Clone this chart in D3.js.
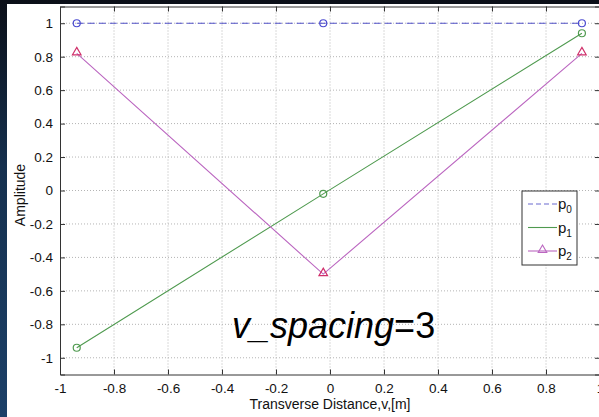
<!DOCTYPE html>
<html>
<head>
<meta charset="utf-8">
<script src="https://cdn.jsdelivr.net/npm/d3@7"></script>
<style>
  body { margin: 0; padding: 0; overflow: hidden; }
  text { font-family: "Liberation Sans", Arial, Helvetica, sans-serif; }
</style>
</head>
<body>
<div id="chart"></div>
<script>
// data
var xVals = [-0.938, -0.025, 0.933];
var p0 = [1, 1, 1];
var p1 = [-0.94, -0.02, 0.94];
var p2 = [0.82, -0.5, 0.82];
var xTicks = [-1, -0.8, -0.6, -0.4, -0.2, 0, 0.2, 0.4, 0.6, 0.8, 1];
var yTicks = [-1, -0.8, -0.6, -0.4, -0.2, 0, 0.2, 0.4, 0.6, 0.8, 1];
var seriesNames = ["p0", "p1", "p2"];

var svgWidth = 599;
var svgHeight = 417;

var svg = d3.select("#chart")
    .append("svg")
    .attr("width", svgWidth)
    .attr("height", svgHeight);

// dark backdrop behind the figure
var defs = svg.append("defs");
var grad = defs.append("linearGradient")
    .attr("id", "bg")
    .attr("x1", "0").attr("y1", "0").attr("x2", "0").attr("y2", "1");
grad.append("stop").attr("offset", "0%").attr("stop-color", "#0b0f18");
grad.append("stop").attr("offset", "40%").attr("stop-color", "#15304e");
grad.append("stop").attr("offset", "100%").attr("stop-color", "#1c4068");

svg.append("rect")
    .attr("width", svgWidth)
    .attr("height", svgHeight)
    .attr("fill", "url(#bg)");

// white figure
svg.append("rect")
    .attr("x", 7)
    .attr("y", 4)
    .attr("width", svgWidth - 7)
    .attr("height", svgHeight - 4)
    .attr("fill", "#ffffff");

var x = d3.scaleLinear().domain([-1, 1]).range([60, 600]);
var y = d3.scaleLinear().domain([-1.1, 1.1]).range([374.5, 6.5]);

var plot = svg.append("g");

// dotted grid
plot.selectAll(".gx")
    .data(xTicks.slice(1, -1))
    .enter()
    .append("line")
    .attr("x1", d => x(d)).attr("x2", d => x(d))
    .attr("y1", y(1.1)).attr("y2", y(-1.1))
    .attr("stroke", "#b4b4b4")
    .attr("stroke-width", 1)
    .attr("stroke-dasharray", "1,2");

plot.selectAll(".gy")
    .data(yTicks)
    .enter()
    .append("line")
    .attr("x1", x(-1)).attr("x2", x(1))
    .attr("y1", d => y(d)).attr("y2", d => y(d))
    .attr("stroke", "#b4b4b4")
    .attr("stroke-width", 1)
    .attr("stroke-dasharray", "1,2");

// axes with inward ticks, plain hyphen minus like matlab
var fmt = d => String(d);
var bottomAxis = d3.axisBottom(x).tickValues(xTicks).tickSize(-5).tickPadding(9).tickFormat(fmt);
var leftAxis = d3.axisLeft(y).tickValues(yTicks).tickSize(-5).tickPadding(7).tickFormat(fmt);
var topAxis = d3.axisTop(x).tickValues(xTicks).tickSize(-5).tickFormat("");
var rightAxis = d3.axisRight(y).tickValues(yTicks).tickSize(-5).tickFormat("");

function styleAxis(g) {
    g.select(".domain").attr("stroke", "#333").attr("stroke-width", 1);
    g.selectAll(".tick line").attr("stroke", "#333");
    g.selectAll(".tick text")
        .attr("fill", "#111")
        .style("font-size", "13.5px")
        .style("font-family", "'Liberation Sans', Arial, sans-serif");
}

plot.append("g").attr("transform", `translate(0,${y(-1.1)})`).call(bottomAxis).call(styleAxis);
plot.append("g").attr("transform", `translate(${x(-1)},0)`).call(leftAxis).call(styleAxis);
plot.append("g").attr("transform", `translate(0,${y(1.1)})`).call(topAxis).call(styleAxis);
plot.append("g").attr("transform", `translate(${x(1)},0)`).call(rightAxis).call(styleAxis);

// lines
var line = d3.line()
    .x((d, i) => x(xVals[i]))
    .y(d => y(d));

plot.append("path").datum(p0)
    .attr("d", line).attr("fill", "none")
    .attr("stroke", "#5050c8").attr("stroke-width", 1.1)
    .attr("stroke-dasharray", "7,4");

plot.append("path").datum(p1)
    .attr("d", line).attr("fill", "none")
    .attr("stroke", "#4f9a4f").attr("stroke-width", 1.1);

plot.append("path").datum(p2)
    .attr("d", line).attr("fill", "none")
    .attr("stroke", "#bb66c0").attr("stroke-width", 1.1);

// markers
plot.selectAll(".m0").data(p0).enter().append("circle")
    .attr("cx", (d, i) => x(xVals[i])).attr("cy", d => y(d)).attr("r", 3.5)
    .attr("fill", "none").attr("stroke", "#4a4ad0").attr("stroke-width", 1.2);

plot.selectAll(".m1").data(p1).enter().append("circle")
    .attr("cx", (d, i) => x(xVals[i])).attr("cy", d => y(d)).attr("r", 3.5)
    .attr("fill", "none").attr("stroke", "#4f9a4f").attr("stroke-width", 1.2);

var tri = d3.symbol().type(d3.symbolTriangle).size(32);
plot.selectAll(".m2").data(p2).enter().append("path")
    .attr("d", tri)
    .attr("transform", (d, i) => `translate(${x(xVals[i])},${y(d) - 1})`)
    .attr("fill", "none").attr("stroke", "#d0306a").attr("stroke-width", 1.2);

// axis titles
svg.append("text")
    .attr("x", 330).attr("y", 409)
    .attr("text-anchor", "middle")
    .style("font-size", "14px")
    .attr("fill", "#111")
    .text("Transverse Distance,v,[m]");

svg.append("text")
    .attr("transform", "translate(25,195) rotate(-90)")
    .attr("text-anchor", "middle")
    .style("font-size", "14px")
    .attr("fill", "#111")
    .text("Amplitude");

// annotation
var ann = svg.append("text")
    .attr("x", 232).attr("y", 338)
    .style("font-size", "36px")
    .attr("fill", "#000");
ann.append("tspan").style("font-style", "italic").text("v_spacing");
ann.append("tspan").text("=3");

// legend
var legend = svg.append("g");
legend.append("rect")
    .attr("x", 522).attr("y", 191)
    .attr("width", 55).attr("height", 74)
    .attr("fill", "#fff").attr("stroke", "#333").attr("stroke-width", 1);

var legColors = ["#6a6ad0", "#4f9a4f", "#bb66c0"];
var legDash = ["5,3", "none", "none"];
var legY = d3.scalePoint().domain(seriesNames).range([204, 251]);

seriesNames.forEach(function(name, i) {
    var ly = legY(name);
    legend.append("line")
        .attr("x1", 528).attr("x2", 557)
        .attr("y1", ly).attr("y2", ly)
        .attr("stroke", legColors[i]).attr("stroke-width", 1.1)
        .attr("stroke-dasharray", legDash[i]);
    if (i === 2) {
        legend.append("path")
            .attr("d", tri)
            .attr("transform", `translate(542.5,${ly - 1})`)
            .attr("fill", "none").attr("stroke", "#bb66c0").attr("stroke-width", 1.1);
    }
    var t = legend.append("text")
        .attr("x", 558).attr("y", ly + 5)
        .style("font-size", "15px")
        .attr("fill", "#111");
    t.append("tspan").text("p");
    t.append("tspan").attr("dy", 4).style("font-size", "10px").text(name.slice(1));
});
</script>
</body>
</html>
